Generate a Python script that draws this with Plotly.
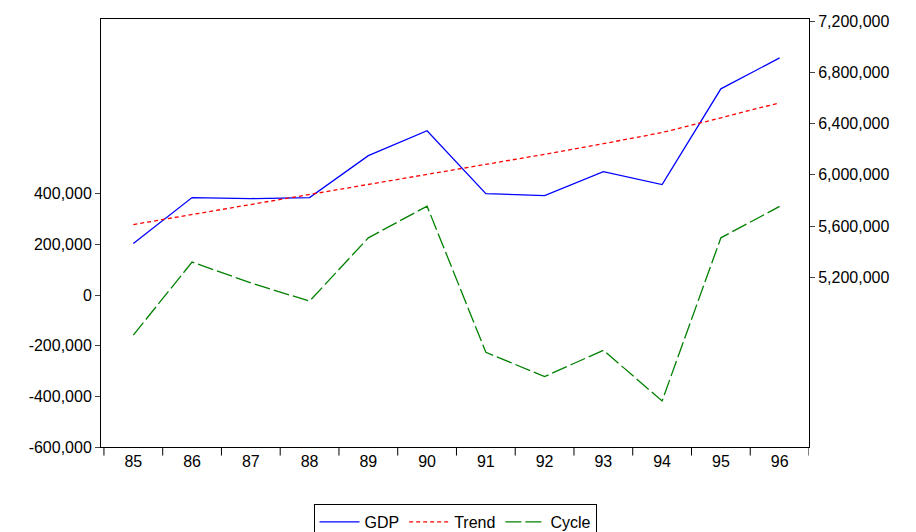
import plotly.graph_objects as go

years = ["85", "86", "87", "88", "89", "90", "91", "92", "93", "94", "95", "96"]
gdp = [5464600, 5822600, 5814800, 5822600, 6149400, 6344000, 5853700, 5838100, 6025000, 5923700, 6670800, 6912100]
trend = [5612000, 5690000, 5767000, 5846000, 5923000, 6000000, 6080000, 6160000, 6243000, 6330000, 6445000, 6562000]
cycle = [-158000, 130000, 48000, -24000, 226000, 351000, -226000, -322000, -218000, -418000, 226000, 350000]
left_ticks = [-600000, -400000, -200000, 0, 200000, 400000]
right_ticks = [5200000, 5600000, 6000000, 6400000, 6800000, 7200000]
xs = list(range(len(years)))

fig = go.Figure()
fig.add_trace(go.Scatter(x=xs, y=gdp, name="GDP", yaxis="y2", mode="lines",
                         line=dict(color="#0000ff", width=1.3)))
fig.add_trace(go.Scatter(x=xs, y=trend, name="Trend", yaxis="y2", mode="lines",
                         line=dict(color="#ff0000", width=1.3, dash="4px,3px")))
fig.add_trace(go.Scatter(x=xs, y=cycle, name="Cycle", mode="lines",
                         line=dict(color="#008000", width=1.3, dash="16px,4px")))

fig.update_layout(
    width=916, height=532,
    margin=dict(l=93, r=115, t=11, b=93),
    plot_bgcolor="white", paper_bgcolor="white",
    font=dict(family="Liberation Sans, Arial", size=16, color="black"),
    xaxis=dict(range=[-0.55, 11.5], tickvals=xs, ticktext=years, showgrid=False,
               zeroline=False, showline=True, linecolor="black", mirror=True,
               ticks="outside", ticklen=0, automargin=False),
    yaxis=dict(range=[-600000, 1090000], tickvals=left_ticks,
               ticktext=[f"{v:,}" for v in left_ticks], showgrid=False, zeroline=False,
               showline=True, linecolor="black", ticks="outside", ticklen=5,
               automargin=False),
    yaxis2=dict(range=[3877000, 7215600], overlaying="y", side="right",
                tickvals=right_ticks, ticktext=[f"{v:,}" for v in right_ticks],
                showgrid=False, zeroline=False, showline=True,
                linecolor="black", ticks="outside", ticklen=5, automargin=False),
    legend=dict(orientation="h", x=0.5, xanchor="center", xref="paper",
                y=0.0, yanchor="bottom", yref="container",
                bordercolor="black", borderwidth=1, font=dict(size=16),
                tracegroupgap=0, itemwidth=40),
)

# category boundary ticks on the x axis
for i in range(len(years) + 1):
    fig.add_shape(type="line", xref="x", yref="paper", x0=i - 0.5, x1=i - 0.5,
                  y0=0, y1=-0.02, line=dict(color="black", width=1))

fig.write_html("out.html")
